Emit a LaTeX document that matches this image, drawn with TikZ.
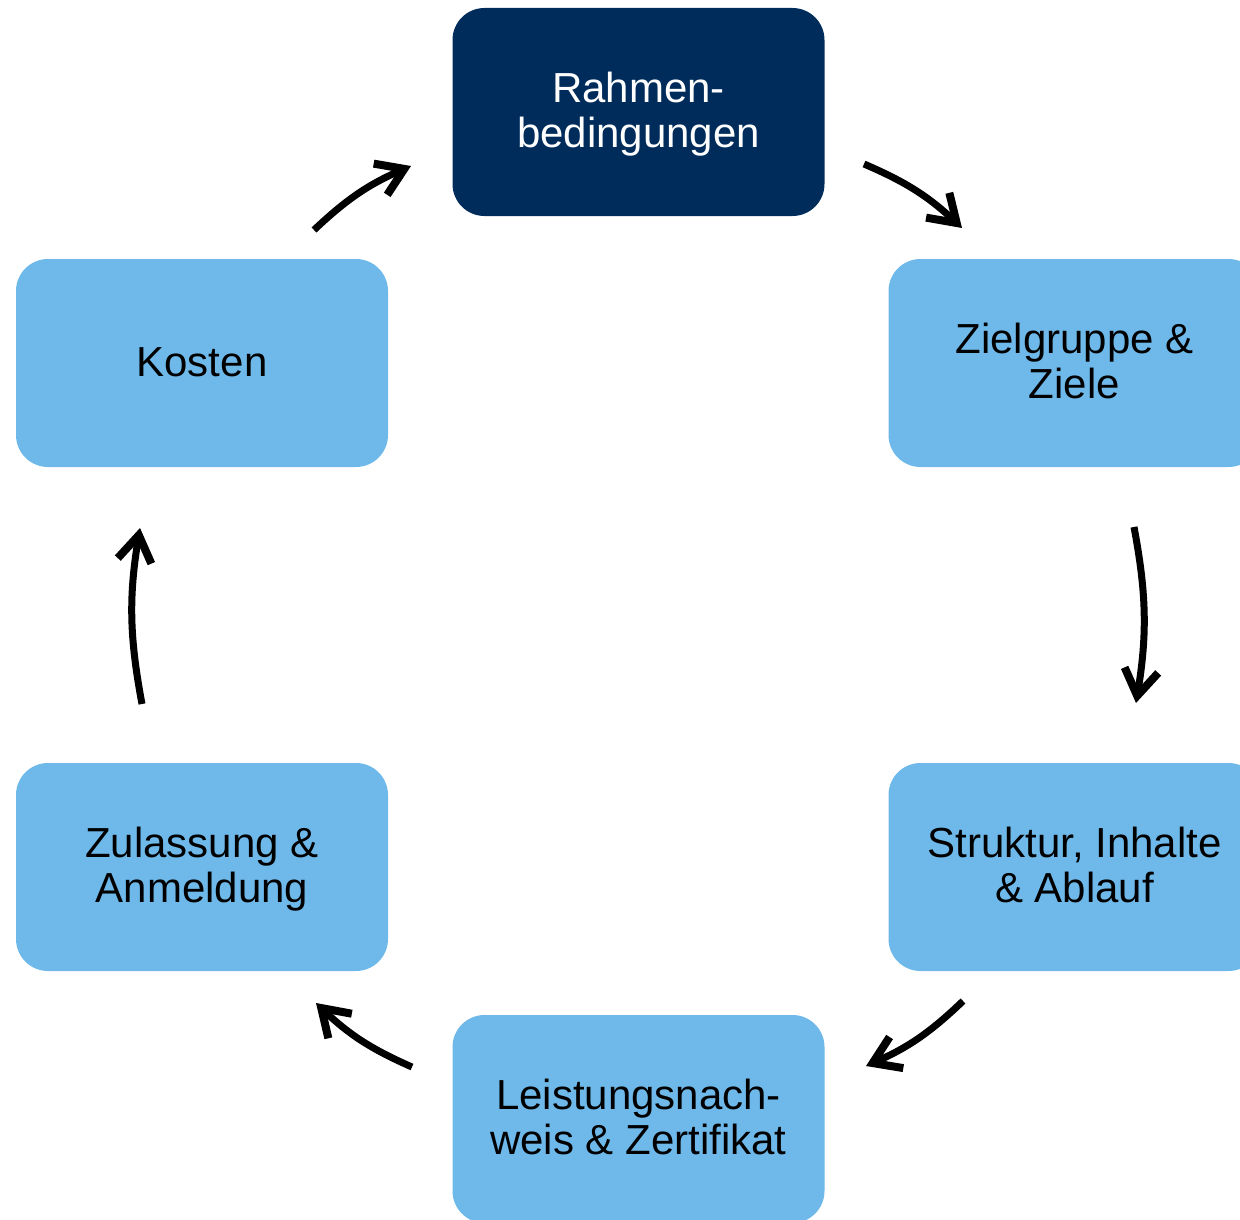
\documentclass[tikz,border=0pt]{standalone}
\usepackage{fontspec}
\setmainfont{Liberation Sans}
\usetikzlibrary{arrows.meta}
\definecolor{navy}{HTML}{002C5B}
\definecolor{lblue}{HTML}{6EB9EA}
\newcommand{\mkline}[1]{\smash{#1}\rule[-2pt]{0pt}{30pt}}
\tikzset{
  stepbox/.style={rectangle, rounded corners=32pt, minimum width=372pt, minimum height=208pt,
    inner sep=0pt, align=center, font=\fontsize{42}{45}\selectfont},
  lightbox/.style={stepbox, fill=lblue, text=black},
  darkbox/.style={stepbox, fill=navy, text=white},
  flow/.style={line width=7pt, -{Straight Barb[length=26pt,width=34pt,line width=8pt]}, bend left=10}
}
\begin{document}
\begin{tikzpicture}[x=1pt,y=-1pt]
\useasboundingbox (0,0) rectangle (1240,1220);
\clip (0,0) rectangle (1240,1220);
\node[darkbox]  (rahmen) at (638.5,112) {\mkline{Rahmen-}\\\mkline{bedingungen}};
\node[lightbox] (ziel)   at (1074.5,363) {\mkline{Zielgruppe \&}\\\mkline{Ziele}};
\node[lightbox] (kosten) at (202,363) {\mkline{Kosten}};
\node[lightbox] (struktur) at (1074.5,867) {\mkline{Struktur, Inhalte}\\\mkline{\& Ablauf}};
\node[lightbox] (zulassung) at (202,867) {\mkline{Zulassung \&}\\\mkline{Anmeldung}};
\node[lightbox] (leistung) at (638.5,1119) {\mkline{Leistungsnach-}\\\mkline{weis \& Zertifikat}};
\coordinate (a1s) at (864,164);  \coordinate (a1e) at (962,228);
\coordinate (a2s) at (1134,527); \coordinate (a2e) at (1136,703);
\coordinate (a3s) at (963,1001); \coordinate (a3e) at (866,1066);
\coordinate (a4s) at (412,1067); \coordinate (a4e) at (316,1003);
\coordinate (a5s) at (142,704);  \coordinate (a5e) at (140,528);
\coordinate (a6s) at (314,230);  \coordinate (a6e) at (411,166);
\draw[flow] (a1s) to (a1e);
\draw[flow] (a2s) to (a2e);
\draw[flow] (a3s) to (a3e);
\draw[flow] (a4s) to (a4e);
\draw[flow] (a5s) to (a5e);
\draw[flow] (a6s) to (a6e);
\end{tikzpicture}
\end{document}
